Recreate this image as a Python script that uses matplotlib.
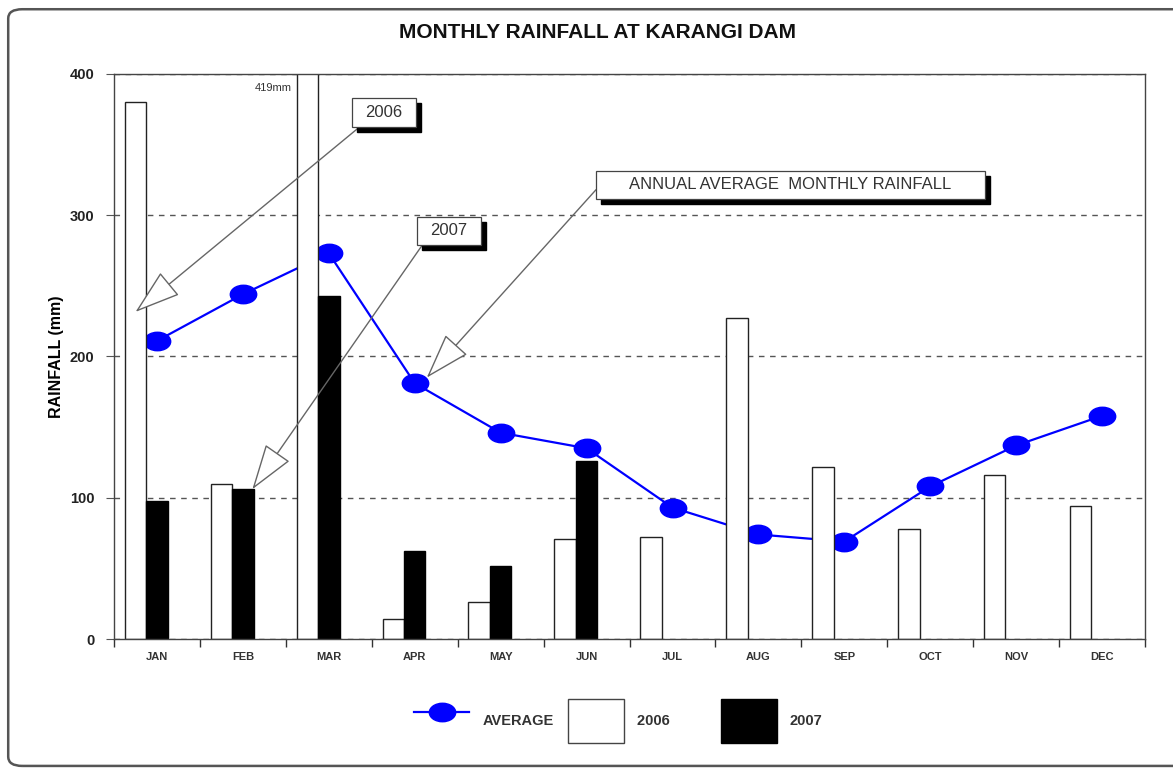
import numpy as np
import matplotlib.pyplot as plt
from matplotlib.path import Path
from matplotlib.transforms import Affine2D
from matplotlib.patches import Rectangle, FancyBboxPatch, Patch
from matplotlib.lines import Line2D

plt.rcParams['font.family'] = ['Liberation Sans', 'DejaVu Sans']

months = ['JAN', 'FEB', 'MAR', 'APR', 'MAY', 'JUN', 'JUL', 'AUG', 'SEP', 'OCT', 'NOV', 'DEC']
rain_2006 = [380, 110, 419, 14, 26, 71, 72, 227, 122, 78, 116, 94]
rain_2007 = [98, 106, 243, 62, 52, 126, 0, 0, 0, 0, 0, 0]
rain_avg = [211, 244, 273, 181, 146, 135, 93, 74, 69, 108, 137, 158]

fig = plt.figure(figsize=(11.73, 7.69), dpi=100)
ax = fig.add_axes([0.0972, 0.169, 0.879, 0.735])

x = np.arange(len(months))
bw = 0.25

# flat ellipse for the average markers
ell = Path.unit_circle().transformed(Affine2D().scale(1.0, 0.7))

ax.plot(x, rain_avg, color='#0000ff', lw=1.6, marker=ell, ms=19, mfc='#0000ff', mec='#0000ff', zorder=1.8)
ax.bar(x - bw, rain_2006, width=bw, color='white', edgecolor='#222222', lw=1.0, zorder=2)
ax.bar(x[:6], rain_2007[:6], width=bw, color='black', edgecolor='black', lw=1.0, zorder=2)

ax.set_xlim(-0.5, 11.5)
ax.set_ylim(0, 400)
ax.set_yticks([0, 100, 200, 300, 400])
ax.set_yticklabels(['0', '100', '200', '300', '400'], fontsize=10.5, fontweight='bold', color='#222222')
ax.tick_params(axis='y', length=6, width=0.8, color='#555555', pad=8)

ax.set_xticks(np.arange(-0.5, 12, 1))
ax.set_xticklabels([])
ax.tick_params(axis='x', which='major', length=6, width=1.0, color='#333333', direction='out')
ax.set_xticks(x, minor=True)
ax.set_xticklabels(months, minor=True, fontsize=8, fontweight='bold', color='#333333')
ax.tick_params(axis='x', which='minor', length=0, pad=9)

ax.set_axisbelow(True)
ax.yaxis.grid(True, linestyle=(0, (4, 4)), color='#555555', lw=1.0)
for s in ax.spines.values():
    s.set_color('#444444')
    s.set_linewidth(1.0)

ax.set_ylabel('RAINFALL (mm)', fontsize=11.5, fontweight='bold', labelpad=4)
fig.text(0.509, 0.958, 'MONTHLY RAINFALL AT KARANGI DAM', ha='center', va='center',
         fontsize=15, fontweight='bold', color='#111111')

ax.text(1.57, 390, '419mm', ha='right', va='center', fontsize=8, color='#333333')

# callout boxes with black drop shadow
def callout(cx, cy, w, h, label, start, tip):
    ax.annotate('', xy=tip, xytext=start,
                arrowprops=dict(arrowstyle='-|>,head_length=1.85,head_width=0.6', mutation_scale=16,
                                facecolor='white', edgecolor='#666666', lw=1.0,
                                shrinkA=0, shrinkB=0), zorder=4)
    dx, dy = 0.06, 3.5
    ax.add_patch(Rectangle((cx - w / 2 + dx, cy - h / 2 - dy), w, h, facecolor='black', edgecolor='black', zorder=5))
    ax.add_patch(Rectangle((cx - w / 2, cy - h / 2), w, h, facecolor='white', edgecolor='#444444', lw=0.9, zorder=6))
    ax.text(cx, cy, label, ha='center', va='center', fontsize=12, color='#333333', zorder=7)

callout(2.643, 372.4, 0.745, 20.5, '2006', (2.35, 362), (-0.25, 231.5))
callout(3.40, 288.8, 0.745, 19.5, '2007', (3.09, 279), (1.11, 106))
callout(7.37, 321.4, 4.53, 19.5, 'ANNUAL AVERAGE  MONTHLY RAINFALL', (5.11, 318), (3.14, 185))

# legend
handles = [Line2D([0], [0], color='#0000ff', lw=1.6, marker=ell, ms=19, mfc='#0000ff', mec='#0000ff'),
           Patch(facecolor='white', edgecolor='#444444', lw=1.0),
           Patch(facecolor='black', edgecolor='black', lw=1.0)]
leg = fig.legend(handles, ['AVERAGE', '2006' + ' ' * 9, '2007'], loc='center', bbox_to_anchor=(0.527, 0.062),
                 ncol=3, frameon=False, handlelength=3.8, handleheight=4.3, columnspacing=1.0,
                 handletextpad=0.9, prop={'weight': 'bold', 'size': 10.5})
for t in leg.get_texts():
    t.set_color('#333333')

# outer frame
fig.patches.append(FancyBboxPatch((0.007, 0.004), 1.05, 0.984, boxstyle='round,pad=0,rounding_size=0.012',
                                  transform=fig.transFigure, facecolor='none', edgecolor='#555555', lw=1.8))

fig.savefig('out.png', dpi=100)
